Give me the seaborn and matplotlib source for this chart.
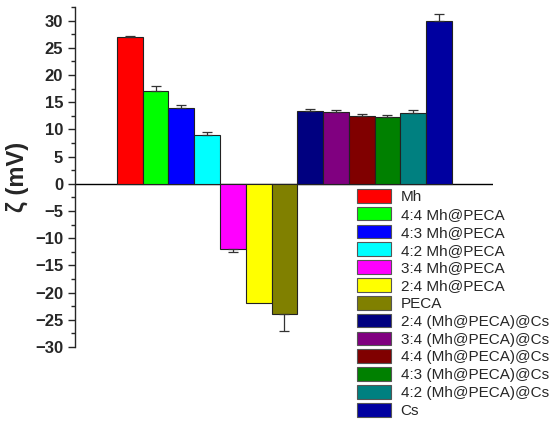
import numpy as np
import pandas as pd
import matplotlib
matplotlib.use('Agg')
import matplotlib.pyplot as plt
import seaborn as sns
from matplotlib.ticker import MultipleLocator

sns.set_style('ticks')
plt.rcParams['font.family'] = ['Liberation Sans', 'DejaVu Sans']

samples = ['Mh', '4:4 Mh@PECA', '4:3 Mh@PECA', '4:2 Mh@PECA', '3:4 Mh@PECA',
           '2:4 Mh@PECA', 'PECA', '2:4 (Mh@PECA)@Cs', '3:4 (Mh@PECA)@Cs',
           '4:4 (Mh@PECA)@Cs', '4:3 (Mh@PECA)@Cs', '4:2 (Mh@PECA)@Cs', 'Cs']
zeta = [27.0, 17.0, 14.0, 9.0, -12.0, -22.0, -24.0, 13.4, 13.2, 12.4, 12.3, 13.0, 30.0]
err = [0.1, 1.0, 0.5, 0.5, 0.5, 0.0, 3.0, 0.4, 0.4, 0.4, 0.3, 0.6, 1.2]
colors = ['#FF0000', '#00FF00', '#0000FF', '#00FFFF', '#FF00FF', '#FFFF00', '#808000',
          '#000080', '#800080', '#800000', '#008000', '#008080', '#0000A0']

df = pd.DataFrame({'sample': samples, 'zeta': zeta, 'err': err})

fig = plt.figure(figsize=(5.5, 4.28), dpi=100)
ax = fig.add_axes([75 / 550, 1 - 347 / 428, 418 / 550, 340 / 428])

sns.barplot(data=df, x='sample', y='zeta', hue='sample', palette=colors,
            saturation=1, width=1.0, edgecolor='#222222', linewidth=0.8,
            legend=True, ax=ax)

# one-sided error bars (away from zero), skip samples without error
pos = np.arange(len(samples))
vals = np.array(zeta)
e = np.array(err)
has = e > 0
lower = np.where(vals < 0, e, 0)[has]
upper = np.where(vals > 0, e, 0)[has]
ax.errorbar(pos[has], vals[has], yerr=[lower, upper], fmt='none', ecolor='#333333',
            elinewidth=0.9, capsize=3.5, capthick=0.9)

ax.axhline(0, color='black', lw=1.0, zorder=0.5)
ax.set_xlim(-2.13, 14.1)
ax.set_ylim(-30, 32.5)
ax.yaxis.set_major_locator(MultipleLocator(5))
ax.yaxis.set_minor_locator(MultipleLocator(2.5))
ax.tick_params(axis='y', which='major', direction='out', length=5, width=1,
               labelsize=12)
ax.tick_params(axis='y', which='minor', direction='out', length=3, width=1)
ax.set_xticks([])
ax.set_xlabel('')
for lab in ax.get_yticklabels():
    lab.set_fontweight('bold')
ax.set_ylabel('ζ (mV)', fontsize=17, fontweight='bold', labelpad=4)

for s in ['top', 'right', 'bottom']:
    ax.spines[s].set_visible(False)
ax.spines['left'].set_linewidth(1.0)

handles, labels = ax.get_legend_handles_labels()
for h in handles:
    h.set_edgecolor('#555555')
    h.set_linewidth(0.8)
ax.legend(handles, labels, loc='upper left', bbox_to_anchor=(357 / 550, 1 - 189 / 428),
          bbox_transform=fig.transFigure, frameon=False, fontsize=11,
          borderpad=0, borderaxespad=0, handlelength=2.2, handleheight=1.0,
          labelspacing=0.18, handletextpad=0.65)

fig.savefig('out.png', dpi=100)
